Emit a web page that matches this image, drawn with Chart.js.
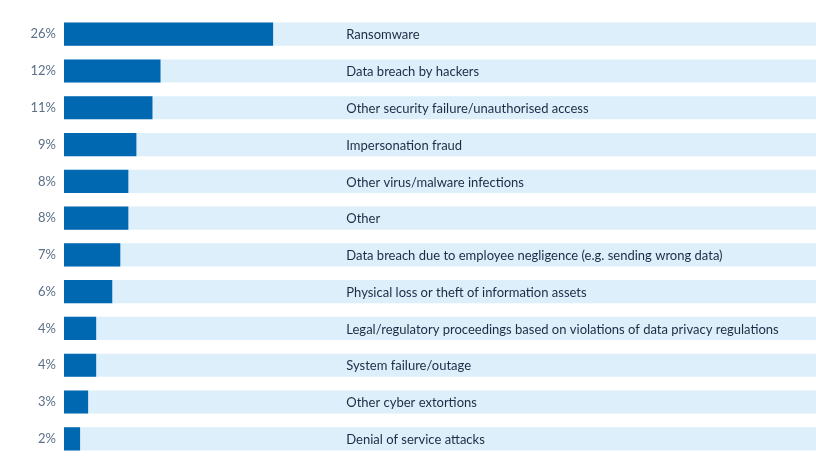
<!DOCTYPE html>
<html>
<head>
<meta charset="utf-8">
<script src="https://cdn.jsdelivr.net/npm/chart.js@4.4.1/dist/chart.umd.min.js"></script>
<style>
  html, body { margin: 0; padding: 0; background: #fff; }
  #wrap { width: 816px; height: 473px; position: relative; }
</style>
</head>
<body>
<div id="wrap"><canvas id="chart"></canvas></div>
<script>
const categories = [
  'Ransomware',
  'Data breach by hackers',
  'Other security failure/unauthorised access',
  'Impersonation fraud',
  'Other virus/malware infections',
  'Other',
  'Data breach due to employee negligence (e.g. sending wrong data)',
  'Physical loss or theft of information assets',
  'Legal/regulatory proceedings based on violations of data privacy regulations',
  'System failure/outage',
  'Other cyber extortions',
  'Denial of service attacks'
];
const shares = [26, 12, 11, 9, 8, 8, 7, 6, 4, 4, 3, 2];
const axisMax = 93.5;

const darkBlue = '#0067b1';
const lightBlue = '#ddeffa';

const nameLabels = {
  id: 'nameLabels',
  afterDatasetsDraw(chart) {
    const { ctx, scales } = chart;
    ctx.save();
    ctx.font = '13px Lato';
    ctx.fillStyle = '#1e2b45';
    ctx.textBaseline = 'middle';
    categories.forEach((name, i) => {
      ctx.fillText(name, scales.x.getPixelForValue(35.1), scales.y.getPixelForValue(i) + 1);
    });
    ctx.restore();
  }
};

new Chart(document.getElementById('chart'), {
  type: 'bar',
  data: {
    labels: shares.map(v => v + '%'),
    datasets: [{
      data: shares,
      backgroundColor: darkBlue,
      order: 1
    }, {
      data: categories.map(() => axisMax),
      backgroundColor: lightBlue,
      order: 2
    }]
  },
  options: {
    indexAxis: 'y',
    responsive: true,
    maintainAspectRatio: false,
    animation: false,
    datasets: {
      bar: {
        grouped: false,
        barPercentage: 0.63,
        categoryPercentage: 1,
        borderWidth: 0
      }
    },
    layout: { padding: { top: 15, bottom: 14, left: 0, right: 0 } },
    plugins: {
      legend: { display: false },
      tooltip: { enabled: false }
    },
    scales: {
      x: {
        display: false,
        min: 0,
        max: axisMax
      },
      y: {
        grid: { display: false, drawTicks: false },
        border: { display: false },
        ticks: {
          color: '#5b6f86',
          font: { size: 13, family: 'Lato' },
          padding: 8
        },
        afterFit(scale) { scale.width = 64; }
      }
    }
  },
  plugins: [nameLabels]
});
</script>
</body>
</html>
